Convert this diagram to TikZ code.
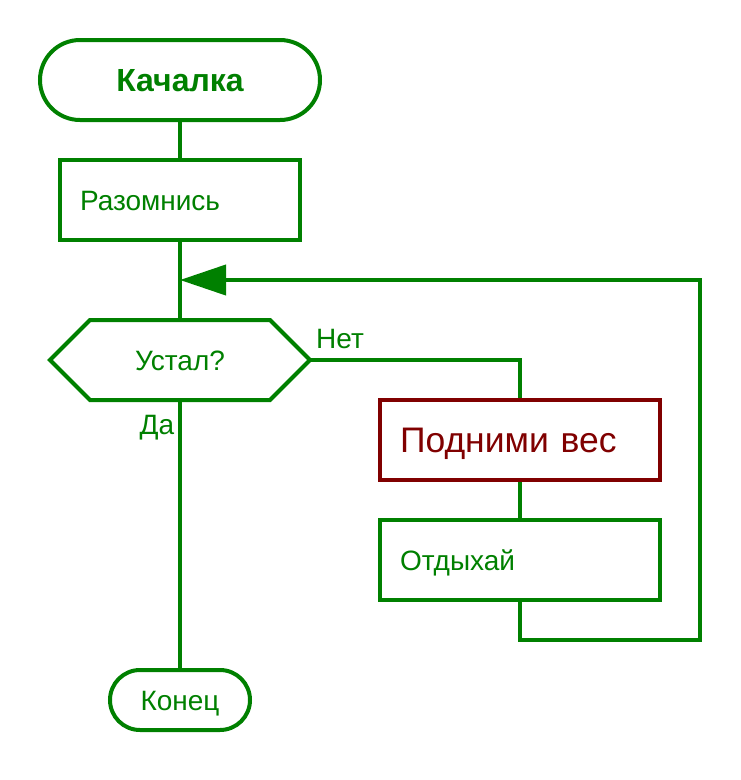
\documentclass[tikz,border=0pt]{standalone}
\usepackage{fontspec}
\setmainfont{Liberation Sans}
\usetikzlibrary{arrows.meta}
\definecolor{fg}{HTML}{008000}
\definecolor{dred}{HTML}{800000}
\tikzset{
  x=1pt, y=-1pt,
  every node/.style={font=\fontsize{28}{32}\selectfont, text=fg, text height=20pt, text depth=0pt},
  conn/.style={draw=fg, line width=4pt},
  term/.style={draw=fg, line width=4pt, rounded corners=#1, inner sep=0pt},
  box/.style={draw=fg, line width=4pt, inner xsep=20pt, inner ysep=0pt, align=left, minimum height=80pt},
}
\begin{document}
\begin{tikzpicture}
\useasboundingbox (0,0) rectangle (740,780);
% start
\node[term=40pt, minimum width=280pt, minimum height=80pt, text height=23pt, font=\fontsize{32}{36}\selectfont\bfseries] (start) at (180,80) {Качалка};
\node[box, text width=200pt] (warm) at (180,200) {Разомнись};
% hexagon
\node[minimum width=260pt, minimum height=80pt, inner sep=0pt] (tired) at (180,360) {Устал?};
\draw[conn, line join=miter] (50,360) -- (90,320) -- (270,320) -- (310,360) -- (270,400) -- (90,400) -- cycle;
\node[box, draw=dred, text=dred, text width=240pt, text height=25.5pt, font=\fontsize{35.5}{40}\selectfont] (lift) at (520,440) {Подними вес};
\node[box, text width=240pt] (rest) at (520,560) {Отдыхай};
\node[term=30pt, minimum width=140pt, minimum height=60pt] (end) at (180,700) {Конец};
\node (no) at (340,338) {Нет};
\node (yes) at (157,424) {Да};
\coordinate (loop) at (180,280);
\coordinate (nocorner) at (520,360);
\coordinate (b1) at (520,640);
\coordinate (b2) at (700,640);
\coordinate (b3) at (700,280);
% connectors
\draw[conn] (start.south) -- (warm.north);
\draw[conn] (warm.south) -- (tired.north);
\draw[conn] (tired.east) -- (nocorner) -- (lift.north);
\draw[conn] (lift.south) -- (rest.north);
\draw[conn] (tired.south) -- (end.north);
\draw[conn, -{Triangle[length=46pt, width=30pt]}] (rest.south) -- (b1) -- (b2) -- (b3) -- (loop);
\end{tikzpicture}
\end{document}
